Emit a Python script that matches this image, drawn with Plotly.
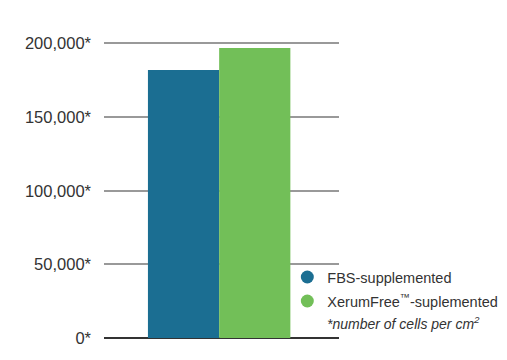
import plotly.graph_objects as go

series_names = ["FBS-supplemented", "XerumFree<sup>™</sup>-suplemented"]
series_values = [182000, 197000]
series_colors = ["#1b6e92", "#72bf58"]
tick_values = [0, 50000, 100000, 150000, 200000]
tick_labels = ["0*", "50,000*", "100,000*", "150,000*", "200,000*"]
note_text = "<i>*number of cells per cm<sup>2</sup></i>"

# the page has an 8px body margin; plot area in page px: x 104..345, y 43..338
OFF = 8
Y_TOP = 201000  # a little headroom so the 200,000 gridline is drawn
L, R, B = 104 - OFF, 345 - OFF, 338 - OFF
T = B - 295 * Y_TOP / 200000
W, H = 507, 360
pw, ph = R - L, B - T


def px(xp):
    return (xp - OFF - L) / pw


def py(yp):
    return (B - (yp - OFF)) / ph


fig = go.Figure()
for name, val, col in zip(series_names, series_values, series_colors):
    fig.add_trace(go.Bar(x=[""], y=[val], marker=dict(color=col, line=dict(width=0)),
                         showlegend=False, name=name))
legend_ids = ["legend", "legend2"]
for name, col, lg in zip(series_names, series_colors, legend_ids):
    fig.add_trace(go.Scatter(x=[None], y=[None], mode="markers", name=name, legend=lg,
                             marker=dict(symbol="circle", size=13, color=col)))

legend_font = dict(size=14.5, color="#333333")
fig.update_layout(
    width=W, height=H,
    margin=dict(l=L, r=W - R, t=T, b=H - B),
    plot_bgcolor="white", paper_bgcolor="white",
    barmode="group", bargap=0.394, bargroupgap=0,
    font=dict(family="Liberation Sans, Arial, sans-serif", color="#333333", size=16.5),
    xaxis=dict(showticklabels=False, showgrid=False, zeroline=False, showline=False,
               range=[-0.49, 0.51]),
    yaxis=dict(range=[0, Y_TOP], tickvals=tick_values, ticktext=tick_labels,
               showgrid=True, gridcolor="#999999", gridwidth=1.5,
               zeroline=True, zerolinecolor="#333333", zerolinewidth=1.5,
               ticks="", ticklabelstandoff=12, showline=False),
    legend=dict(x=px(292), y=py(277), xanchor="left", yanchor="middle",
                font=legend_font, bgcolor="rgba(0,0,0,0)"),
    legend2=dict(x=px(292), y=py(301), xanchor="left", yanchor="middle",
                 font=legend_font, bgcolor="rgba(0,0,0,0)"),
    annotations=[dict(text=note_text, x=px(331), y=py(323), xref="paper", yref="paper",
                      showarrow=False, xanchor="left", yanchor="middle",
                      font=dict(size=14, color="#333333"))],
)

fig.write_html("out.html")
